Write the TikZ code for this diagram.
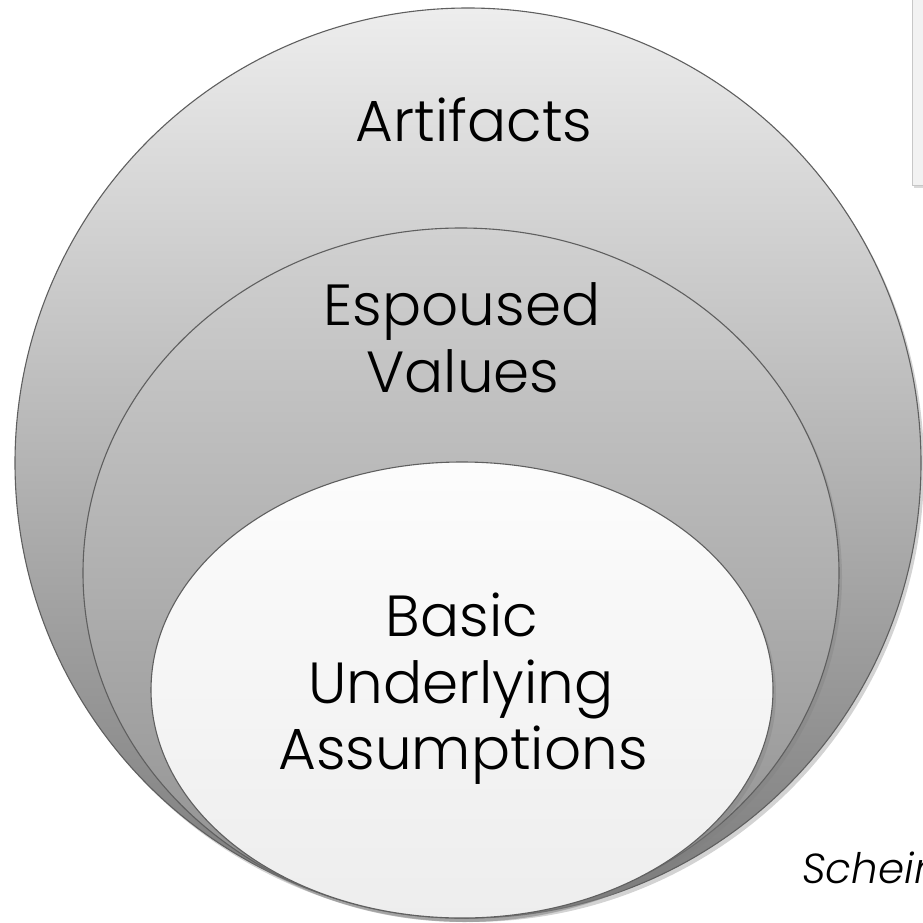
\documentclass[tikz,border=0pt]{standalone}
\usepackage{fontspec}
\setmainfont{Poppins}[UprightFont={* Light}, ItalicFont={* Light Italic}]
\usetikzlibrary{shadows}
\definecolor{rimgray}{HTML}{5F5F5F}
\definecolor{boxgray}{HTML}{F2F2F2}
\tikzset{
  layer/.style={draw=rimgray, line width=1.1pt,
    drop shadow={shadow xshift=3pt, shadow yshift=-4pt, opacity=.35}},
  lbl/.style={anchor=base, inner sep=0pt, font=\fontsize{58}{64}\selectfont},
}

\begin{document}
\begin{tikzpicture}[x=1pt, y=-1pt]
\useasboundingbox (0,0) rectangle (922,923);
% note box, top right
\draw[draw=black!22, fill=boxgray, drop shadow={shadow xshift=2pt, shadow yshift=-3pt, opacity=.3}]
  (912,-5) rectangle (940,185);
% the three levels
\path[layer, top color=black!7, bottom color=black!52] (468,463) circle [x radius=453, y radius=455];
\path[layer, top color=black!18, bottom color=black!44] (461,573) circle [x radius=378, y radius=345];
\path[layer, top color=black!1, bottom color=black!7] (462,690) circle [x radius=311, y radius=228];
% labels
\node[lbl] (art) at (474,142) {Artifacts};
\node[lbl] (esp) at (462,325) {Espoused};
\node[lbl] (val) at (463,392) {Values};
\node[lbl] (bas) at (462,636) {Basic};
\node[lbl] (und) at (461,703) {Underlying};
\node[lbl] (ass) at (463,769) {Assumptions};
\node[anchor=base west, inner sep=0pt, font=\fontsize{42}{48}\selectfont\itshape] (src) at (802,883) {Schein};
\end{tikzpicture}
\end{document}
